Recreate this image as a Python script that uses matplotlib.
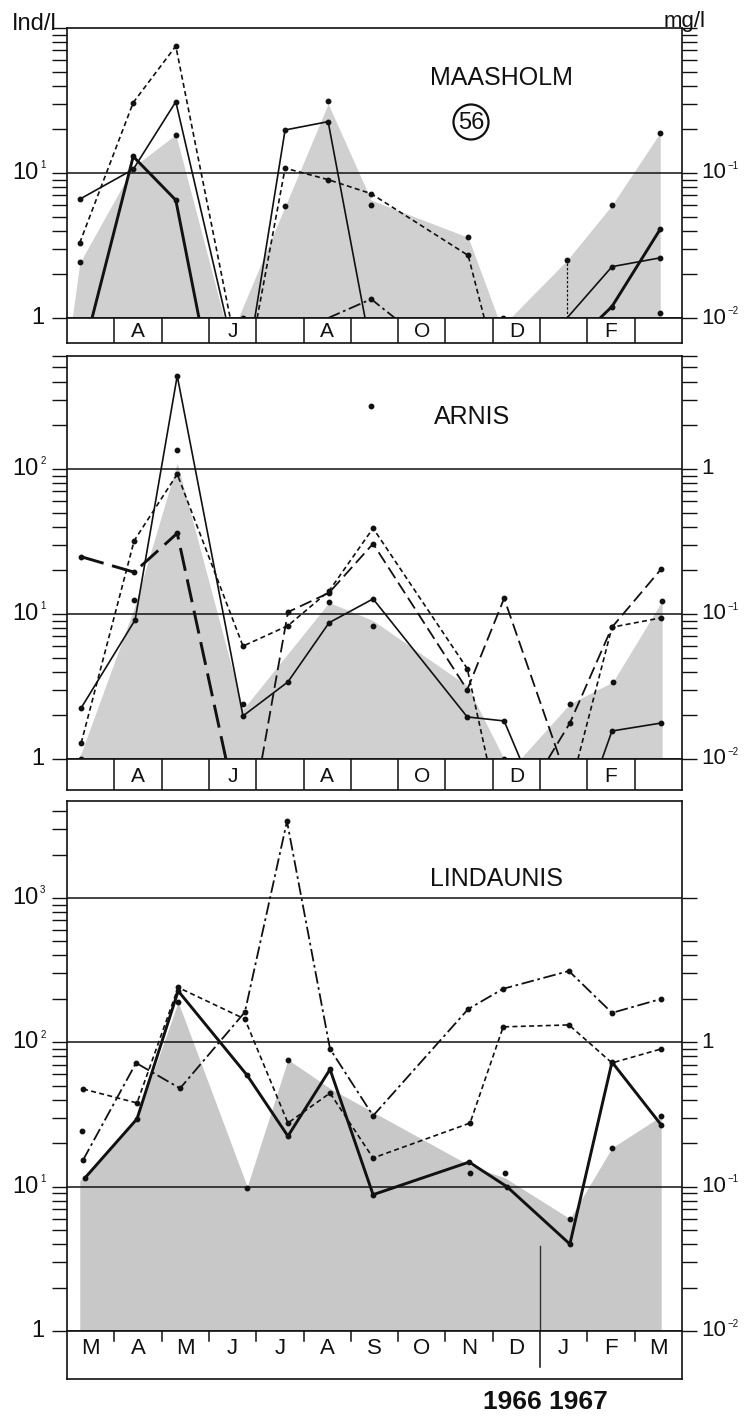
import numpy as np
import matplotlib
matplotlib.use('Agg')
import matplotlib.pyplot as plt
from matplotlib.patches import Ellipse
from matplotlib.ticker import LogLocator, NullFormatter, FixedLocator

plt.rcParams['font.family'] = ['Liberation Sans', 'DejaVu Sans']

nan = np.nan
months = ['M', 'A', 'M', 'J', 'J', 'A', 'S', 'O', 'N', 'D', 'J', 'F', 'M']

# ---------------- MAASHOLM (56) ----------------
p1_thin_t = [0.27, 1.40, 2.30, 3.36, nan, 3.97, 4.61, 5.52, 6.30, nan, 10.57, 11.52, 12.54]
p1_thin_v = [6.6, 10.6, 31, 1, nan, 1, 19.8, 22.6, 1, nan, 1, 2.26, 2.6]
p1_thick_t = [0.53, 1.40, 2.30, 2.79, nan, 11.27, 11.52, 12.54]
p1_thick_v = [1, 13, 6.5, 1, nan, 1, 1.2, 4.1]
p1_dash_t = [0.27, 1.40, 2.30, 3.45, nan, 4.02, 4.61, 5.52, 6.43, 8.48, 8.82]
p1_dash_v = [3.3, 30.6, 75, 1, nan, 1, 10.8, 9.0, 7.2, 2.7, 1]
p1_dashdot_t = [5.52, 6.43, 6.93]
p1_dashdot_v = [1, 1.35, 1]
p1_stem_t = [10.57]
p1_stem_v = [2.5]
p1_dot_t = [0.27, 2.30, 3.72, 4.61, 5.52, 6.43, 8.48, 9.22, 10.57, 11.52, 12.54, 12.54]
p1_dot_v = [2.45, 18.4, 1.0, 5.9, 31.6, 6.0, 3.6, 1.0, 2.5, 6.0, 19, 1.08]
p1_shade_t = [0.11, 0.27, 1.40, 2.30, 3.32, 3.62, 5.52, 6.43, 8.48, 9.11, 9.37, 10.57, 11.52, 12.54]
p1_shade_v = [1, 2.4, 11, 18.4, 1, 1, 30, 6.5, 3.6, 1, 1, 2.5, 6, 19]

# ---------------- ARNIS ----------------
p2_thin_t = [0.30, 1.44, 2.33, 3.72, 4.67, 5.54, 6.47, 8.46, 9.24, 9.58, nan, 11.31, 11.52, 12.56]
p2_thin_v = [2.25, 9.1, 438, 1.98, 3.4, 8.7, 12.7, 1.95, 1.83, 1, nan, 1, 1.56, 1.77]
p2_thickdash_t = [0.30, 1.42, 2.33, 3.36]
p2_thickdash_v = [24.8, 19.4, 36, 1]
p2_dash_t = [0.30, 1.42, 2.33, 3.72, 4.67, 5.54, 6.47, 8.46, 8.88, nan, 10.80, 11.52, 12.56]
p2_dash_v = [1.29, 32, 92, 6.0, 8.3, 14.4, 39, 4.2, 1, nan, 1, 8.1, 9.4]
p2_longdash_t = [4.12, 4.67, 5.54, 6.47, 8.46, 9.24, 10.42, nan, 10.17, 10.63, 11.52, 12.56]
p2_longdash_v = [1, 10.3, 14, 30.5, 3.0, 12.8, 1, nan, 1, 1.77, 8.1, 20.4]
p2_dot_t = [0.30, 1.42, 2.33, 3.72, 5.54, 6.47, 6.43, 9.24, 10.63, 11.54, 12.58]
p2_dot_v = [1.0, 12.5, 135, 2.4, 12.1, 8.3, 271, 1.0, 2.4, 3.4, 12.3]
p2_shade_t = [0.23, 0.30, 1.42, 2.33, 3.72, 5.54, 6.47, 8.46, 9.24, 9.58, 10.63, 11.54, 12.58]
p2_shade_v = [1, 1.1, 11, 110, 2.2, 12, 9, 3.2, 1.0, 1.0, 2.4, 3.4, 12.3]

# ---------------- LINDAUNIS ----------------
p3_thick_t = [0.38, 1.48, 2.35, 3.81, 4.67, 5.56, 6.47, 8.50, 9.30, 10.63, 11.52, 12.56]
p3_thick_v = [11.5, 29.5, 227, 59, 22.4, 65, 8.8, 14.8, 10, 4, 73, 26.8]
p3_dashdot_t = [0.34, 1.46, 2.39, 3.76, 4.65, 5.56, 6.47, 8.48, 9.22, 10.61, 11.52, 12.56]
p3_dashdot_v = [15.3, 72, 48, 162, 3400, 90, 31, 170, 235, 312, 160, 200]
p3_dash_t = [0.34, 1.48, 2.35, 3.76, 4.67, 5.56, 6.47, 8.52, 9.22, 10.61, 11.52, 12.56]
p3_dash_v = [47.5, 38, 240, 145, 27.6, 44.5, 15.8, 27.6, 128, 132, 72, 90]
p3_dot_t = [0.32, 2.35, 3.81, 4.67, 8.52, 9.26, 10.63, 11.52, 12.56]
p3_dot_v = [24.4, 190, 9.8, 76, 12.4, 12.4, 6, 18.6, 30.8]
p3_shade_t = [0.27, 1.48, 2.35, 3.81, 4.67, 5.56, 8.52, 9.26, 10.63, 11.52, 12.56]
p3_shade_v = [11, 30, 190, 10, 76, 48, 14, 11.5, 6, 18.6, 30.8]

# ---------------- layout (pixels) ----------------
W, H = 750, 1418
X0, X1 = 67, 682
INK = '#111111'
STY = {
    'thin': dict(lw=1.2, ls='-'),
    'thick': dict(lw=2.1, ls='-'),
    'dash': dict(lw=1.2, dashes=(3, 2)),
    'longdash': dict(lw=1.3, dashes=(7, 3)),
    'thickdash': dict(lw=2.1, dashes=(8, 3)),
    'dashdot': dict(lw=1.3, dashes=(7, 2, 1.5, 2)),
}

fig = plt.figure(figsize=(W / 100, H / 100), dpi=100)
fig.patch.set_facecolor('white')


def fx(px):
    return px / W


def fy(py):
    return 1 - py / H


def line(ax, t, v, style):
    t = np.asarray(t, float)
    v = np.asarray(v, float)
    ax.plot(t, v, color=INK, solid_capstyle='butt', **STY[style])
    m = np.isfinite(v) & (v > 1.0001)
    ax.plot(t[m], v[m], 'o', color=INK, ms=3.2, ls='none')


def panel(top, bottom, ymax, rmax_tick=None):
    ax = fig.add_axes([fx(X0), fy(bottom), (X1 - X0) / W, (bottom - top) / H])
    ax.set_yscale('log')
    ax.set_xlim(0, 13)
    ax.set_ylim(1, ymax)
    ax.set_xticks([])
    ax.yaxis.set_major_locator(LogLocator(base=10))
    ax.yaxis.set_minor_locator(LogLocator(base=10, subs=np.arange(2, 10)))
    ax.yaxis.set_major_formatter(NullFormatter())
    ax.yaxis.set_minor_formatter(NullFormatter())
    ax.tick_params(which='both', direction='out', length=11, width=1.0,
                   left=True, right=False, labelleft=False, color=INK)
    for s in ax.spines.values():
        s.set_linewidth(1.2)
        s.set_color(INK)
    ax2 = ax.twinx()
    ax2.set_yscale('log')
    ax2.set_ylim(0.01, ymax / 100)
    if rmax_tick is None:
        ax2.yaxis.set_minor_locator(LogLocator(base=10, subs=np.arange(2, 10)))
    else:
        mt = [m * 10.0 ** e for e in (-2, -1, 0) for m in range(2, 10)]
        ax2.yaxis.set_minor_locator(FixedLocator([x for x in mt if x <= rmax_tick]))
    ax2.yaxis.set_major_locator(LogLocator(base=10))
    ax2.yaxis.set_major_formatter(NullFormatter())
    ax2.yaxis.set_minor_formatter(NullFormatter())
    ax2.tick_params(which='both', direction='out', length=11, width=1.0,
                    right=True, labelright=False, color=INK)
    ax2.set_xticks([])
    for s in ax2.spines.values():
        s.set_visible(False)
    lim = ymax * 0.95
    k = 1
    while 10 ** k < lim:
        ax.axhline(10 ** k, color=INK, lw=1.1, zorder=1)
        k += 1
    tr = ax.get_yaxis_transform()
    ax.text(-0.036, 1, '1', transform=tr, ha='right', va='center', fontsize=17, color=INK)
    k = 1
    while 10 ** k < lim:
        t = ax.text(-0.046, 10 ** k, '10', transform=tr, ha='right', va='center',
                    fontsize=17, color=INK)
        ax.annotate(str(k), xy=(1.0, 0.85), xycoords=t, xytext=(1, 0),
                    textcoords='offset points', fontsize=7, ha='left', va='center', color=INK)
        k += 1
    rl = {0: ('10', '\u22122'), 1: ('10', '\u22121'), 2: ('1', None)}
    for k in (0, 1, 2):
        if 10 ** k < lim:
            base, sup = rl[k]
            t = ax.text(1.032, 10 ** k, base, transform=tr, ha='left', va='center',
                        fontsize=16, color=INK)
            if sup:
                ax.annotate(sup, xy=(1.0, 0.85), xycoords=t, xytext=(1, 0),
                            textcoords='offset points', fontsize=7, ha='left',
                            va='center', color=INK)
    return ax


def strip(top, bottom, all_labels):
    sx = fig.add_axes([fx(X0), fy(bottom), (X1 - X0) / W, (bottom - top) / H])
    sx.set_xlim(0, 13)
    sx.set_ylim(0, 1)
    sx.set_xticks([])
    sx.set_yticks([])
    for s in sx.spines.values():
        s.set_linewidth(1.2)
        s.set_color(INK)
    if all_labels:
        for i in range(1, 13):
            lo = 0.25 if i == 10 else 0.8
            sx.plot([i, i], [lo, 1], color=INK, lw=1.1)
        for i, m in enumerate(months):
            sx.text(i + 0.5, 0.64, m, ha='center', va='center', fontsize=16, color=INK)
    else:
        for i in range(1, 13):
            sx.plot([i, i], [0, 1], color=INK, lw=1.1)
        for i in (1, 3, 5, 7, 9, 11):
            sx.text(i + 0.5, 0.45, months[i], ha='center', va='center', fontsize=15, color=INK)
    return sx


SHADE = '#d0d0d0'

# Panel 1
ax1 = panel(28, 318, 100)
ax1.fill_between(p1_shade_t, 1, p1_shade_v, color=SHADE, lw=0, zorder=0)
line(ax1, p1_thin_t, p1_thin_v, 'thin')
line(ax1, p1_thick_t, p1_thick_v, 'thick')
line(ax1, p1_dash_t, p1_dash_v, 'dash')
line(ax1, p1_dashdot_t, p1_dashdot_v, 'dashdot')
ax1.vlines(p1_stem_t, 1, p1_stem_v, color=INK, lw=0.9, linestyles=(0, (2, 1.5)))
ax1.plot(p1_dot_t, p1_dot_v, 'o', color=INK, ms=3.2, ls='none', clip_on=False)
strip(318, 343, False)

# Panel 2
ax2 = panel(356, 759, 600)
ax2.fill_between(p2_shade_t, 1, p2_shade_v, color=SHADE, lw=0, zorder=0)
line(ax2, p2_thin_t, p2_thin_v, 'thin')
line(ax2, p2_thickdash_t, p2_thickdash_v, 'thickdash')
line(ax2, p2_dash_t, p2_dash_v, 'dash')
line(ax2, p2_longdash_t, p2_longdash_v, 'longdash')
ax2.plot(p2_dot_t, p2_dot_v, 'o', color=INK, ms=3.2, ls='none', clip_on=False)
strip(759, 790, False)

# Panel 3
ax3 = panel(801, 1331, 4700, rmax_tick=5.5)
ax3.fill_between(p3_shade_t, 1, p3_shade_v, color='#c8c8c8', lw=0, zorder=0)
line(ax3, p3_thick_t, p3_thick_v, 'thick')
line(ax3, p3_dashdot_t, p3_dashdot_v, 'dashdot')
line(ax3, p3_dash_t, p3_dash_v, 'dash')
ax3.plot(p3_dot_t, p3_dot_v, 'o', color=INK, ms=3.2, ls='none', clip_on=False)
ax3.axvline(10, ymax=0.16, color='#333333', lw=1.0)
strip(1331, 1379, True)

# Texts
fig.text(fx(12), fy(24), 'Ind/l', ha='left', va='center', fontsize=17, color=INK)
fig.text(fx(664), fy(21), 'mg/l', ha='left', va='center', fontsize=16, color=INK)
fig.text(fx(501), fy(78), 'MAASHOLM', ha='center', va='center', fontsize=18, color=INK)
fig.text(fx(472), fy(417), 'ARNIS', ha='center', va='center', fontsize=18, color=INK)
fig.text(fx(497), fy(879), 'LINDAUNIS', ha='center', va='center', fontsize=18, color=INK)
fig.text(fx(471), fy(123), '56', ha='center', va='center', fontsize=17, color=INK)
fig.add_artist(Ellipse((fx(471), fy(122)), 35 / W, 35 / H, transform=fig.transFigure,
                       fill=False, ec=INK, lw=1.6))
fig.text(fx(545), fy(1402), '1966 1967', ha='center', va='center', fontsize=19,
         weight='bold', color=INK)

fig.savefig('out.png', dpi=100, facecolor='white')
